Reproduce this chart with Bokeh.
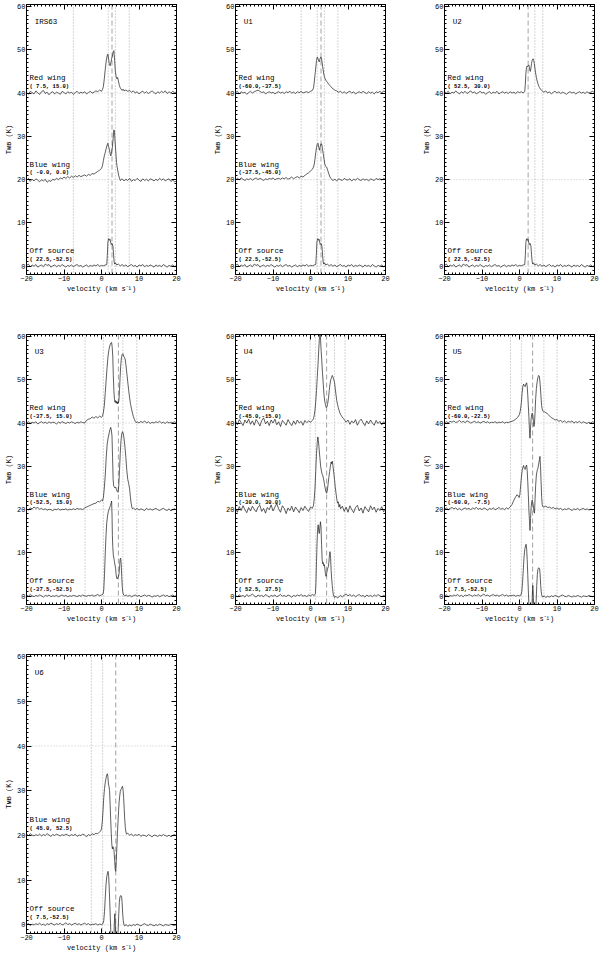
from bokeh.plotting import figure
from bokeh.layouts import column, row
from bokeh.models import LinearAxis, SingleIntervalTicker, Range1d, Span
from bokeh.core.properties import value
from bokeh.embed import file_html
from bokeh.resources import INLINE

# ---------------- data: (velocity km/s, T relative to the spectrum's offset in K) ----------------
irs63_red = [(-20,0.2),(-19.5,-0.3),(-19,0.4),(-18.5,0.1),(-18,-0.2),(-17.5,0.5),(-17,0.0),(-16.5,-0.3),(-16,0.3),(-15.5,0.6),
 (-15,-0.1),(-14.5,0.2),(-14,-0.4),(-13.5,0.1),(-13,0.3),(-12.5,-0.2),(-12,0.2),(-11.5,0.0),(-11,-0.3),(-10.5,0.4),(-10,0.1),
 (-9.5,-0.2),(-9,0.3),(-8.5,0.0),(-8,0.2),(-7.5,-0.3),(-7,0.1),(-6.5,0.4),(-6,-0.1),(-5.5,0.2),(-5,0.0),(-4.5,0.3),(-4,-0.2),
 (-3.5,0.1),(-3,0.4),(-2.5,0.0),(-2,0.2),(-1.5,0.5),(-1,0.3),(-0.5,0.7),(0,0.4),(0.25,0.8),(0.5,1.5),(0.75,3.3),(1.0,5.5),
 (1.25,7.4),(1.5,8.6),(1.7,9.0),(1.9,7.8),(2.1,6.5),(2.3,6.3),(2.5,7.0),(2.7,8.0),(2.9,8.5),(3.1,9.5),(3.3,9.8),(3.5,7.5),
 (3.7,5.0),(3.9,3.8),(4.1,3.3),(4.3,3.6),(4.5,2.8),(4.75,1.8),(5.0,1.2),(5.25,0.9),(5.5,0.6),(5.75,0.9),(6,0.5),(6.5,0.7),
 (7,0.4),(7.5,0.6),(8,0.2),(8.5,0.5),(9,0.0),(9.5,0.3),(10,-0.2),(10.5,0.2),(11,0.4),(11.5,0.0),(12,0.3),(12.5,-0.1),(13,0.2),
 (13.5,0.5),(14,0.1),(14.5,-0.2),(15,0.3),(15.5,0.0),(16,0.4),(16.5,0.1),(17,0.5),(17.5,-0.1),(18,0.3),(18.5,0.0),(19,0.4),
 (19.5,0.1),(20,0.2)]

irs63_blue = [(-20,-0.2),(-19.5,0.3),(-19,-0.4),(-18.5,0.1),(-18,-0.3),(-17.5,0.2),(-17,-0.1),(-16.5,-0.5),(-16,0.0),(-15.5,-0.3),
 (-15,0.1),(-14.5,-0.6),(-14,-0.2),(-13.5,-0.4),(-13,0.1),(-12.5,-0.1),(-12,0.3),(-11.5,0.0),(-11,0.4),(-10.5,0.2),(-10,0.6),
 (-9.5,0.3),(-9,0.7),(-8.5,0.4),(-8,0.8),(-7.5,0.5),(-7,0.9),(-6.5,0.6),(-6,1.0),(-5.5,0.7),(-5,0.9),(-4.5,1.1),(-4,0.8),
 (-3.5,1.2),(-3,1.0),(-2.5,1.4),(-2,1.3),(-1.5,1.6),(-1,1.9),(-0.5,2.2),(0,2.6),(0.25,3.2),(0.5,4.4),(0.75,5.5),(1.0,6.3),
 (1.25,7.2),(1.5,8.0),(1.7,8.4),(1.9,7.6),(2.1,7.0),(2.3,6.0),(2.5,5.5),(2.7,6.5),(2.9,7.5),(3.1,9.5),(3.3,11.5),(3.45,11.2),
 (3.6,9.0),(3.8,6.5),(4.0,4.0),(4.2,2.8),(4.4,1.8),(4.6,0.9),(4.8,0.3),(5.0,-0.2),(5.5,0.2),(6,-0.3),(6.5,0.1),(7,-0.2),(7.5,0.3),
 (8,-0.4),(8.5,0.0),(9,-0.2),(9.5,0.3),(10,-0.1),(10.5,-0.4),(11,0.2),(11.5,-0.2),(12,0.1),(12.5,-0.3),(13,0.2),(13.5,0.0),
 (14,-0.3),(14.5,0.1),(15,-0.2),(15.5,0.3),(16,-0.1),(16.5,0.2),(17,-0.3),(17.5,0.0),(18,0.2),(18.5,-0.4),(19,-0.1),(19.5,-0.5),(20,-0.3)]

off_p22_m52 = [(-20,0.2),(-19.5,0.5),(-19,-0.1),(-18.5,0.3),(-18,0.0),(-17.5,0.4),(-17,-0.2),(-16.5,0.1),(-16,0.3),(-15.5,-0.1),
 (-15,0.5),(-14.5,0.2),(-14,0.4),(-13.5,-0.2),(-13,0.1),(-12.5,0.3),(-12,-0.1),(-11.5,0.2),(-11,0.0),(-10.5,0.4),(-10,0.1),
 (-9.5,-0.2),(-9,0.2),(-8.5,0.0),(-8,0.3),(-7.5,-0.1),(-7,0.2),(-6.5,0.4),(-6,0.0),(-5.5,0.2),(-5,-0.2),(-4.5,0.1),(-4,0.3),
 (-3.5,-0.1),(-3,0.2),(-2.5,0.0),(-2,0.3),(-1.5,0.1),(-1,0.4),(-0.5,0.0),(0,0.2),(0.5,0.1),(1.0,0.3),(1.4,0.4),(1.55,2.5),
 (1.7,5.5),(1.85,6.3),(2.0,6.4),(2.15,6.0),(2.3,6.2),(2.45,5.5),(2.6,5.0),(2.75,5.3),(2.9,5.2),(3.05,4.6),(3.2,2.8),(3.35,1.2),
 (3.5,0.5),(3.75,0.8),(4.0,0.3),(4.5,0.5),(5,0.1),(5.5,0.4),(6,0.0),(6.5,0.3),(7,-0.1),(7.5,0.2),(8,0.4),(8.5,0.0),(9,0.2),
 (9.5,-0.2),(10,0.3),(10.5,0.1),(11,0.4),(11.5,-0.1),(12,0.2),(12.5,0.0),(13,0.3),(13.5,0.1),(14,-0.2),(14.5,0.3),(15,0.0),
 (15.5,0.2),(16,-0.1),(16.5,0.4),(17,0.1),(17.5,-0.2),(18,0.2),(18.5,0.0),(19,0.3),(19.5,-0.1),(20,0.2)]

u1_red = [(-20,0.1),(-19.5,0.4),(-19,-0.2),(-18.5,0.3),(-18,0.0),(-17.5,0.2),(-17,-0.3),(-16.5,0.1),(-16,0.4),(-15.5,0.0),
 (-15,0.3),(-14.5,0.5),(-14,0.7),(-13.5,0.4),(-13,0.1),(-12.5,0.3),(-12,-0.2),(-11.5,0.1),(-11,0.3),(-10.5,0.0),(-10,0.2),
 (-9.5,-0.2),(-9,0.1),(-8.5,0.3),(-8,0.0),(-7.5,0.2),(-7,-0.1),(-6.5,0.3),(-6,0.1),(-5.5,0.4),(-5,0.0),(-4.5,0.2),(-4,-0.1),
 (-3.5,0.3),(-3,0.1),(-2.5,0.4),(-2,0.0),(-1.5,0.2),(-1,0.3),(-0.5,0.1),(0,0.4),(0.5,0.6),(0.8,1.2),(1.0,2.5),(1.2,4.2),
 (1.4,5.8),(1.6,7.5),(1.8,8.3),(2.0,8.0),(2.2,7.4),(2.35,7.2),(2.5,7.8),(2.7,8.3),(2.9,8.2),(3.1,7.0),(3.3,5.8),(3.5,4.6),
 (3.7,3.8),(3.9,3.3),(4.2,2.8),(4.5,2.5),(4.8,2.1),(5.1,1.8),(5.4,1.5),(5.7,1.2),(6.0,1.0),(6.3,0.8),(6.6,0.6),(7,0.5),(7.5,0.2),
 (8,0.4),(8.5,0.0),(9,0.3),(9.5,-0.1),(10,0.2),(10.5,0.4),(11,0.0),(11.5,0.3),(12,-0.2),(12.5,0.1),(13,0.3),(13.5,0.0),(14,0.4),
 (14.5,0.1),(15,-0.1),(15.5,0.3),(16,0.0),(16.5,0.2),(17,-0.2),(17.5,0.3),(18,0.1),(18.5,0.4),(19,0.0),(19.5,0.5),(20,0.2)]

u1_blue = [(-20,-0.1),(-19.5,0.3),(-19,0.0),(-18.5,0.4),(-18,0.1),(-17.5,-0.2),(-17,0.2),(-16.5,0.0),(-16,0.3),(-15.5,-0.1),
 (-15,0.2),(-14.5,0.4),(-14,0.0),(-13.5,0.3),(-13,0.1),(-12.5,-0.2),(-12,0.2),(-11.5,0.0),(-11,0.3),(-10.5,0.1),(-10,0.4),
 (-9.5,0.0),(-9,0.2),(-8.5,0.3),(-8,0.1),(-7.5,0.4),(-7,0.2),(-6.5,0.5),(-6,0.1),(-5.5,0.3),(-5,0.6),(-4.5,0.2),(-4,0.5),
 (-3.5,0.7),(-3,0.4),(-2.5,0.8),(-2,0.6),(-1.5,1.0),(-1,1.3),(-0.5,1.6),(0,2.0),(0.5,2.4),(0.8,2.9),(1.0,3.6),(1.2,4.8),
 (1.4,6.3),(1.6,7.4),(1.8,8.2),(2.0,8.4),(2.2,7.5),(2.4,6.8),(2.6,7.6),(2.8,8.3),(3.0,8.2),(3.2,7.0),(3.4,6.0),(3.6,4.8),
 (3.8,3.7),(4.0,3.1),(4.3,2.9),(4.6,2.1),(4.9,1.3),(5.2,0.6),(5.5,0.2),(6,-0.2),(6.5,0.1),(7,-0.3),(7.5,0.2),(8,0.0),(8.5,-0.2),
 (9,0.3),(9.5,0.0),(10,-0.1),(10.5,0.2),(11,-0.3),(11.5,0.1),(12,-0.1),(12.5,0.3),(13,0.0),(13.5,-0.2),(14,0.2),(14.5,-0.1),
 (15,0.1),(15.5,-0.3),(16,0.2),(16.5,0.0),(17,-0.2),(17.5,0.3),(18,0.0),(18.5,0.2),(19,-0.1),(19.5,0.3),(20,0.1)]

u2_red = [(-20,0.3),(-19.5,0.0),(-19,0.4),(-18.5,-0.2),(-18,0.2),(-17.5,0.0),(-17,0.5),(-16.5,0.1),(-16,-0.2),(-15.5,0.3),
 (-15,0.0),(-14.5,0.4),(-14,-0.1),(-13.5,0.2),(-13,0.5),(-12.5,0.0),(-12,0.3),(-11.5,-0.2),(-11,0.1),(-10.5,0.4),(-10,0.0),
 (-9.5,0.2),(-9,-0.3),(-8.5,0.1),(-8,0.3),(-7.5,-0.1),(-7,0.2),(-6.5,0.0),(-6,0.4),(-5.5,-0.2),(-5,0.1),(-4.5,0.3),(-4,0.0),
 (-3.5,0.2),(-3,-0.1),(-2.5,0.3),(-2,0.0),(-1.5,0.2),(-1,-0.1),(-0.5,0.3),(0,0.1),(0.5,0.3),(1.0,0.0),(1.4,0.4),(1.55,2.0),
 (1.7,4.5),(1.85,5.8),(2.0,6.2),(2.15,6.0),(2.3,6.3),(2.45,6.5),(2.6,6.1),(2.75,5.2),(2.9,5.0),(3.05,5.8),(3.2,6.8),(3.35,7.5),
 (3.5,7.8),(3.65,7.9),(3.8,7.5),(3.95,6.8),(4.1,5.8),(4.3,4.6),(4.5,3.6),(4.7,2.8),(4.9,2.2),(5.1,1.7),(5.3,1.3),(5.6,0.9),
 (5.9,0.6),(6.2,0.4),(6.5,0.2),(7,0.5),(7.5,0.0),(8,0.3),(8.5,-0.2),(9,0.2),(9.5,0.4),(10,0.0),(10.5,0.3),(11,-0.1),(11.5,0.2),
 (12,0.0),(12.5,-0.3),(13,0.1),(13.5,0.3),(14,0.0),(14.5,0.2),(15,-0.2),(15.5,0.1),(16,0.3),(16.5,0.0),(17,0.2),(17.5,-0.1),
 (18,0.3),(18.5,0.0),(19,0.2),(19.5,0.4),(20,0.1)]

u3_red = [(-20,0.0),(-19.5,0.3),(-19,-0.1),(-18.5,0.2),(-18,0.0),(-17.5,0.3),(-17,-0.2),(-16.5,0.1),(-16,0.3),(-15.5,0.0),
 (-15,0.2),(-14.5,-0.1),(-14,0.3),(-13.5,0.0),(-13,0.2),(-12.5,0.1),(-12,-0.2),(-11.5,0.2),(-11,0.0),(-10.5,0.3),(-10,0.1),
 (-9.5,-0.1),(-9,0.2),(-8.5,0.0),(-8,0.3),(-7.5,0.1),(-7,-0.1),(-6.5,0.2),(-6,0.0),(-5.5,0.3),(-5,0.1),(-4.5,0.0),(-4,0.6),
 (-3.5,0.9),(-3,1.0),(-2.5,1.4),(-2,1.1),(-1.5,1.5),(-1,1.2),(-0.5,1.6),(0,1.3),(0.25,1.6),(0.5,2.5),(0.75,4.0),(1.0,7.0),
 (1.25,10.0),(1.5,13.0),(1.75,15.5),(2.0,17.0),(2.25,18.0),(2.5,18.5),(2.7,18.6),(2.85,17.5),(3.0,15.5),(3.15,11.0),(3.3,7.5),
 (3.45,5.5),(3.6,4.8),(3.75,5.2),(3.9,4.6),(4.05,5.0),(4.2,4.4),(4.35,4.9),(4.5,4.6),(4.65,5.3),(4.8,7.5),(4.95,10.5),
 (5.1,13.0),(5.3,15.0),(5.5,15.8),(5.7,16.0),(5.9,15.5),(6.1,15.2),(6.3,14.8),(6.5,13.5),(6.75,11.5),(7.0,9.5),(7.25,7.5),
 (7.5,5.8),(7.75,4.3),(8.0,3.3),(8.25,2.3),(8.5,1.5),(8.75,0.9),(9.0,0.4),(9.25,0.1),(9.5,0.3),(10,0.0),(10.5,0.4),(11,0.1),
 (11.5,0.5),(12,0.0),(12.5,0.3),(13,-0.1),(13.5,0.2),(14,0.0),(14.5,0.3),(15,0.1),(15.5,0.4),(16,0.0),(16.5,0.2),(17,-0.1),
 (17.5,0.3),(18,0.0),(18.5,0.2),(19,0.1),(19.5,0.3),(20,0.0)]

u3_blue = [(-20,0.2),(-19.5,-0.1),(-19,0.4),(-18.5,0.2),(-18,0.6),(-17.5,0.3),(-17,0.5),(-16.5,0.1),(-16,0.3),(-15.5,0.0),
 (-15,0.2),(-14.5,-0.1),(-14,0.1),(-13.5,0.0),(-13,-0.2),(-12.5,0.1),(-12,0.0),(-11.5,0.2),(-11,-0.1),(-10.5,0.1),(-10,0.0),
 (-9.5,0.2),(-9,-0.1),(-8.5,0.1),(-8,0.0),(-7.5,0.2),(-7,0.0),(-6.5,0.3),(-6,0.1),(-5.5,0.2),(-5,0.0),(-4.5,0.4),(-4,0.6),
 (-3.5,0.8),(-3,1.0),(-2.5,1.2),(-2,1.4),(-1.5,1.5),(-1,1.9),(-0.5,1.8),(0,2.2),(0.25,2.0),(0.5,2.8),(0.75,5.0),(1.0,8.0),
 (1.25,12.0),(1.5,15.0),(1.75,16.5),(2.0,17.5),(2.25,18.5),(2.45,19.0),(2.6,18.5),(2.8,17.0),(2.95,12.0),(3.1,7.0),(3.25,5.5),
 (3.4,5.3),(3.6,5.0),(3.8,5.2),(4.0,4.6),(4.2,4.2),(4.4,4.0),(4.6,5.5),(4.8,9.0),(5.0,13.0),(5.2,16.0),(5.4,17.5),(5.6,18.0),
 (5.8,17.6),(6.0,16.5),(6.25,14.5),(6.5,12.0),(6.75,9.0),(7.0,7.0),(7.25,6.0),(7.5,4.8),(7.7,3.0),(7.9,1.5),(8.1,0.5),(8.3,0.2),
 (8.5,0.4),(9,0.0),(9.5,0.3),(10,-0.1),(10.5,0.2),(11,0.0),(11.5,-0.2),(12,0.3),(12.5,0.0),(13,0.2),(13.5,-0.1),(14,0.1),
 (14.5,0.3),(15,0.0),(15.5,-0.2),(16,0.1),(16.5,0.3),(17,0.0),(17.5,-0.2),(18,0.2),(18.5,-0.3),(19,0.0),(19.5,0.2),(20,-0.1)]

off_m37_m52 = [(-20,0.3),(-19.5,0.0),(-19,0.4),(-18.5,0.1),(-18,-0.1),(-17.5,0.2),(-17,0.0),(-16.5,0.3),(-16,0.1),(-15.5,-0.2),
 (-15,0.2),(-14.5,0.0),(-14,0.3),(-13.5,-0.1),(-13,0.1),(-12.5,0.0),(-12,0.2),(-11.5,-0.1),(-11,0.1),(-10.5,0.3),(-10,0.0),
 (-9.5,0.2),(-9,-0.1),(-8.5,0.1),(-8,0.0),(-7.5,0.2),(-7,0.1),(-6.5,-0.1),(-6,0.2),(-5.5,0.0),(-5,0.3),(-4.5,0.1),(-4,0.0),
 (-3.5,0.2),(-3,0.1),(-2.5,0.3),(-2,0.0),(-1.5,0.2),(-1,0.4),(-0.5,0.1),(0,0.3),(0.4,0.5),(0.6,1.5),(0.8,5.0),(1.0,10.0),
 (1.2,14.0),(1.4,17.0),(1.6,18.5),(1.8,19.5),(2.0,20.0),(2.2,20.5),(2.4,21.0),(2.55,21.5),(2.7,22.0),(2.8,19.0),(2.9,14.0),
 (3.0,11.5),(3.15,9.5),(3.3,8.8),(3.45,8.0),(3.6,7.2),(3.75,6.5),(3.9,5.0),(4.05,4.2),(4.2,4.0),(4.35,4.3),(4.5,4.6),(4.65,5.0),
 (4.8,6.5),(4.95,8.5),(5.1,8.8),(5.25,7.5),(5.4,4.5),(5.55,2.0),(5.7,0.8),(5.9,0.3),(6.2,0.1),(6.6,0.3),(7,0.0),(7.5,0.2),
 (8,-0.1),(8.5,0.1),(9,0.3),(9.5,0.0),(10,0.2),(10.5,-0.1),(11,0.1),(11.5,0.3),(12,0.0),(12.5,0.2),(13,0.1),(13.5,-0.2),
 (14,0.1),(14.5,0.0),(15,0.2),(15.5,-0.1),(16,0.1),(16.5,0.3),(17,0.0),(17.5,0.2),(18,-0.1),(18.5,0.1),(19,0.3),(19.5,0.0),(20,0.2)]

u4_red = [(-20,0.5),(-19.5,-0.4),(-19,0.8),(-18.5,0.1),(-18,-0.6),(-17.5,0.7),(-17,0.0),(-16.5,0.9),(-16,-0.3),(-15.5,0.5),
 (-15,-0.5),(-14.5,0.8),(-14,0.2),(-13.5,-0.7),(-13,0.6),(-12.5,1.2),(-12,-0.2),(-11.5,0.4),(-11,-0.6),(-10.5,0.7),(-10,0.0),
 (-9.5,0.9),(-9,-0.4),(-8.5,0.3),(-8,-0.8),(-7.5,0.6),(-7,0.1),(-6.5,-0.5),(-6,0.8),(-5.5,0.0),(-5,-0.6),(-4.5,0.5),(-4,-0.3),
 (-3.5,0.7),(-3,0.0),(-2.5,0.4),(-2,-0.5),(-1.5,0.6),(-1,0.1),(-0.5,0.5),(0,0.2),(0.5,0.6),(0.8,1.0),(1.0,1.8),(1.2,3.0),
 (1.4,5.0),(1.6,7.5),(1.8,10.5),(2.0,13.5),(2.2,17.0),(2.4,20.0),(2.55,21.5),(2.7,19.0),(2.85,16.5),(3.0,14.5),(3.2,11.5),
 (3.4,9.0),(3.6,6.5),(3.8,5.0),(4.0,4.2),(4.2,3.6),(4.4,3.8),(4.6,4.6),(4.8,5.8),(5.0,7.5),(5.2,9.0),(5.4,10.0),(5.6,10.5),
 (5.8,11.0),(6.0,10.6),(6.2,10.0),(6.4,9.4),(6.6,8.0),(6.8,6.5),(7.0,5.2),(7.2,4.3),(7.4,3.6),(7.6,3.0),(7.8,2.4),(8.0,2.0),
 (8.3,1.6),(8.6,1.2),(9.0,0.8),(9.5,0.2),(10,0.7),(10.5,-0.3),(11,0.5),(11.5,0.0),(12,0.8),(12.5,-0.5),(13,0.4),(13.5,0.9),
 (14,0.1),(14.5,-0.6),(15,0.5),(15.5,-0.2),(16,0.7),(16.5,0.0),(17,-0.5),(17.5,0.6),(18,-0.1),(18.5,0.4),(19,-0.4),(19.5,0.3),(20,0.0)]

u4_blue = [(-20,0.3),(-19.5,-0.6),(-19,0.7),(-18.5,-0.2),(-18,0.9),(-17.5,0.0),(-17,-0.7),(-16.5,0.5),(-16,-0.3),(-15.5,0.8),
 (-15,0.1),(-14.5,-0.5),(-14,0.6),(-13.5,1.0),(-13,-0.4),(-12.5,0.3),(-12,-0.8),(-11.5,0.5),(-11,0.0),(-10.5,1.1),(-10,-0.3),
 (-9.5,0.6),(-9,1.4),(-8.5,0.2),(-8,-0.6),(-7.5,0.9),(-7,0.3),(-6.5,-0.9),(-6,0.4),(-5.5,-0.2),(-5,0.8),(-4.5,-0.5),(-4,0.6),
 (-3.5,0.0),(-3,-0.7),(-2.5,0.5),(-2,-0.2),(-1.5,0.8),(-1,0.1),(-0.5,-0.4),(0,0.6),(0.5,0.3),(0.8,1.0),(1.0,2.5),(1.2,5.0),
 (1.4,9.0),(1.6,13.0),(1.8,15.5),(1.95,16.8),(2.1,16.0),(2.3,14.0),(2.5,12.0),(2.7,10.0),(2.9,9.0),(3.1,8.2),(3.3,7.8),(3.5,7.0),
 (3.7,6.0),(3.9,5.0),(4.1,4.2),(4.3,3.8),(4.5,4.5),(4.7,6.0),(4.9,7.5),(5.1,8.8),(5.3,10.0),(5.5,11.0),(5.65,10.6),(5.8,11.2),
 (6.0,10.0),(6.2,8.5),(6.4,7.0),(6.6,5.2),(6.8,3.8),(7.0,2.5),(7.2,1.5),(7.4,1.8),(7.6,0.6),(7.8,1.2),(8.0,0.2),(8.5,0.8),
 (9,-0.4),(9.5,0.6),(10,-0.6),(10.5,0.9),(11,0.0),(11.5,-0.7),(12,0.5),(12.5,1.0),(13,-0.3),(13.5,0.4),(14,-0.8),(14.5,0.7),
 (15,0.1),(15.5,-0.5),(16,0.9),(16.5,0.0),(17,0.6),(17.5,-0.6),(18,0.3),(18.5,-0.2),(19,0.7),(19.5,-0.5),(20,0.0)]

off_p52_p37 = [(-20,0.2),(-19.5,-0.1),(-19,0.3),(-18.5,0.0),(-18,0.2),(-17.5,-0.2),(-17,0.4),(-16.5,0.0),(-16,0.2),(-15.5,0.5),
 (-15,0.1),(-14.5,-0.2),(-14,0.3),(-13.5,0.0),(-13,0.2),(-12.5,-0.1),(-12,0.4),(-11.5,0.1),(-11,-0.2),(-10.5,0.2),(-10,0.0),
 (-9.5,0.3),(-9,-0.1),(-8.5,0.1),(-8,0.4),(-7.5,0.0),(-7,0.2),(-6.5,-0.1),(-6,0.3),(-5.5,0.1),(-5,-0.2),(-4.5,0.2),(-4,0.0),
 (-3.5,0.3),(-3,0.1),(-2.5,0.4),(-2,0.0),(-1.5,0.2),(-1,-0.1),(-0.5,0.3),(0,0.1),(0.5,0.4),(1.0,0.2),(1.3,0.6),(1.45,3.0),
 (1.6,8.0),(1.75,12.5),(1.9,15.5),(2.05,16.5),(2.2,15.0),(2.35,14.5),(2.5,16.0),(2.65,17.2),(2.8,16.0),(2.95,12.0),(3.1,8.5),
 (3.25,7.5),(3.4,7.8),(3.55,7.0),(3.7,7.3),(3.85,6.2),(4.0,5.0),(4.15,4.6),(4.3,5.2),(4.45,6.0),(4.6,6.5),(4.75,6.8),(4.9,7.8),
 (5.05,9.5),(5.2,10.3),(5.35,9.0),(5.5,6.0),(5.65,4.0),(5.8,2.5),(5.95,1.2),(6.1,0.3),(6.4,-0.3),(6.8,0.0),(7.2,-0.4),(7.6,-0.1),
 (8,0.2),(8.5,-0.2),(9,0.3),(9.5,0.5),(10,0.1),(10.5,0.4),(11,0.0),(11.5,0.3),(12,-0.1),(12.5,0.2),(13,0.4),(13.5,0.0),(14,0.2),
 (14.5,-0.2),(15,0.3),(15.5,0.0),(16,0.2),(16.5,-0.1),(17,0.3),(17.5,0.0),(18,0.4),(18.5,0.1),(19,-0.1),(19.5,0.2),(20,0.0)]

u5_red = [(-20,0.0),(-19.5,0.3),(-19,0.1),(-18.5,0.4),(-18,0.2),(-17.5,0.5),(-17,0.1),(-16.5,0.3),(-16,0.6),(-15.5,0.2),
 (-15,0.4),(-14.5,0.1),(-14,0.5),(-13.5,0.3),(-13,0.0),(-12.5,0.2),(-12,0.4),(-11.5,0.1),(-11,0.3),(-10.5,0.0),(-10,0.2),
 (-9.5,0.4),(-9,0.1),(-8.5,0.3),(-8,0.0),(-7.5,0.2),(-7,0.1),(-6.5,0.3),(-6,0.0),(-5.5,0.2),(-5,0.1),(-4.5,0.3),(-4,0.0),
 (-3.5,0.2),(-3,0.1),(-2.5,0.3),(-2,0.4),(-1.5,0.6),(-1,0.9),(-0.5,1.3),(0,2.0),(0.25,3.0),(0.5,4.8),(0.7,7.0),(0.9,8.5),
 (1.1,9.0),(1.3,8.6),(1.5,8.4),(1.7,9.0),(1.9,9.3),(2.05,8.5),(2.2,6.5),(2.35,4.0),(2.5,1.5),(2.65,-1.5),(2.8,-3.5),(2.95,-1.0),
 (3.1,1.0),(3.25,2.0),(3.4,2.3),(3.55,1.8),(3.7,0.5),(3.85,-0.8),(4.0,0.0),(4.15,2.5),(4.3,5.5),(4.5,8.0),(4.7,9.5),(4.9,10.5),
 (5.1,11.0),(5.3,10.8),(5.5,9.0),(5.7,6.5),(5.9,4.0),(6.1,3.0),(6.4,2.6),(6.7,2.6),(7.0,2.4),(7.3,2.3),(7.6,2.0),(7.9,1.7),
 (8.2,1.5),(8.6,1.2),(9.0,1.0),(9.5,0.7),(10,0.8),(10.5,0.4),(11,0.6),(11.5,0.2),(12,0.5),(12.5,0.1),(13,0.4),(13.5,0.2),
 (14,0.5),(14.5,0.0),(15,0.3),(15.5,0.1),(16,0.4),(16.5,0.0),(17,0.3),(17.5,0.1),(18,-0.1),(18.5,0.2),(19,0.0),(19.5,0.3),(20,0.1)]

u5_blue = [(-20,0.1),(-19.5,0.4),(-19,0.0),(-18.5,0.3),(-18,0.5),(-17.5,0.2),(-17,0.4),(-16.5,0.0),(-16,0.3),(-15.5,-0.1),
 (-15,0.2),(-14.5,0.4),(-14,0.1),(-13.5,0.3),(-13,0.0),(-12.5,0.4),(-12,0.2),(-11.5,0.5),(-11,0.1),(-10.5,0.3),(-10,0.0),
 (-9.5,0.4),(-9,0.2),(-8.5,-0.1),(-8,0.3),(-7.5,0.1),(-7,0.4),(-6.5,0.0),(-6,0.2),(-5.5,0.5),(-5,0.1),(-4.5,0.3),(-4,0.0),
 (-3.5,0.4),(-3,0.2),(-2.5,0.6),(-2,1.2),(-1.5,2.2),(-1.0,3.0),(-0.7,3.4),(-0.4,3.3),(-0.1,2.8),(0.1,3.5),(0.3,5.5),(0.5,7.5),
 (0.7,9.0),(0.9,9.8),(1.1,10.2),(1.3,9.5),(1.5,9.3),(1.7,10.0),(1.9,10.3),(2.05,9.0),(2.2,6.5),(2.35,3.5),(2.5,0.0),(2.65,-2.5),
 (2.8,-4.8),(2.95,-2.0),(3.1,0.5),(3.25,1.8),(3.4,2.2),(3.55,1.5),(3.7,0.8),(3.85,-0.5),(4.0,-0.8),(4.15,2.5),(4.3,5.5),(4.5,8.0),
 (4.7,9.0),(4.9,9.5),(5.1,10.5),(5.3,11.5),(5.45,12.3),(5.6,10.0),(5.75,6.5),(5.9,3.0),(6.05,1.2),(6.2,0.7),(6.5,0.6),(7,0.8),
 (7.5,0.5),(8,0.6),(8.5,0.3),(9,0.5),(9.5,0.2),(10,0.4),(10.5,0.1),(11,0.3),(11.5,-0.1),(12,0.2),(12.5,0.0),(13,0.3),(13.5,0.1),
 (14,-0.2),(14.5,0.2),(15,0.0),(15.5,0.3),(16,-0.1),(16.5,0.1),(17,0.3),(17.5,0.0),(18,0.2),(18.5,-0.1),(19,0.1),(19.5,0.0),(20,0.2)]

off_p7_m52 = [(-20,0.1),(-19.5,0.3),(-19,-0.1),(-18.5,0.2),(-18,0.0),(-17.5,0.3),(-17,0.1),(-16.5,0.4),(-16,0.0),(-15.5,0.2),
 (-15,-0.1),(-14.5,0.3),(-14,0.1),(-13.5,0.4),(-13,0.2),(-12.5,0.0),(-12,0.3),(-11.5,0.1),(-11,0.4),(-10.5,0.0),(-10,0.2),
 (-9.5,0.5),(-9,0.1),(-8.5,0.3),(-8,0.0),(-7.5,0.2),(-7,0.4),(-6.5,0.1),(-6,0.3),(-5.5,0.0),(-5,0.2),(-4.5,0.4),(-4,0.1),
 (-3.5,0.3),(-3,0.0),(-2.5,0.2),(-2,0.1),(-1.5,0.3),(-1,0.0),(-0.5,0.2),(0,0.1),(0.4,0.3),(0.6,1.0),(0.8,3.0),(1.0,6.0),
 (1.2,9.0),(1.4,10.8),(1.6,11.6),(1.75,12.0),(1.9,11.0),(2.05,8.5),(2.2,5.0),(2.35,1.5),(2.5,-2.0),(2.65,-4.0),(3.0,-5.0),
 (3.3,-3.0),(3.45,1.0),(3.55,2.5),(3.65,1.0),(3.8,-3.0),(4.0,-5.0),(4.3,-4.0),(4.45,-1.0),(4.6,2.5),(4.75,5.0),(4.9,6.2),
 (5.05,6.5),(5.2,6.6),(5.35,6.4),(5.5,5.0),(5.65,2.5),(5.8,1.0),(5.95,0.2),(6.2,-0.2),(6.6,0.1),(7,-0.3),(7.5,0.0),(8,-0.2),
 (8.5,0.1),(9,-0.1),(9.5,0.2),(10,0.0),(10.5,-0.2),(11,0.1),(11.5,0.3),(12,0.0),(12.5,-0.1),(13,0.2),(13.5,0.0),(14,-0.2),
 (14.5,0.1),(15,-0.1),(15.5,0.2),(16,0.0),(16.5,-0.2),(17,0.1),(17.5,0.0),(18,-0.1),(18.5,0.2),(19,0.0),(19.5,-0.1),(20,0.1)]

u6_blue = [(-20,0.3),(-19.5,0.0),(-19,0.4),(-18.5,0.1),(-18,-0.1),(-17.5,0.2),(-17,0.0),(-16.5,0.3),(-16,-0.1),(-15.5,0.2),
 (-15,0.0),(-14.5,0.4),(-14,0.1),(-13.5,-0.2),(-13,0.2),(-12.5,0.0),(-12,0.3),(-11.5,0.1),(-11,-0.1),(-10.5,0.2),(-10,0.0),
 (-9.5,0.3),(-9,0.1),(-8.5,-0.1),(-8,0.2),(-7.5,0.0),(-7,0.3),(-6.5,-0.2),(-6,0.1),(-5.5,0.0),(-5,0.3),(-4.5,0.1),(-4,-0.3),
 (-3.5,0.2),(-3,0.0),(-2.5,0.4),(-2,0.2),(-1.5,0.5),(-1,0.4),(-0.5,0.8),(-0.2,1.0),(0,1.5),(0.2,3.0),(0.4,5.5),(0.6,8.5),
 (0.8,10.5),(1.0,11.8),(1.2,12.8),(1.4,13.5),(1.55,13.8),(1.7,13.2),(1.85,11.5),(2.0,11.0),(2.15,10.0),(2.3,7.0),(2.45,3.5),
 (2.6,0.5),(2.75,-2.0),(2.9,-3.0),(3.05,-2.5),(3.2,-2.8),(3.35,-3.5),(3.5,-5.5),(3.65,-7.5),(3.8,-8.0),(3.95,-5.5),(4.1,-2.5),
 (4.25,0.5),(4.4,3.0),(4.55,5.5),(4.7,7.5),(4.85,8.8),(5.0,9.8),(5.15,10.2),(5.3,10.5),(5.45,10.8),(5.6,11.0),(5.75,10.2),
 (5.9,8.5),(6.05,6.0),(6.2,3.5),(6.35,1.8),(6.5,0.8),(6.7,0.3),(7,0.5),(7.5,0.1),(8,0.3),(8.5,-0.1),(9,0.2),(9.5,0.0),(10,0.3),
 (10.5,-0.2),(11,0.1),(11.5,0.0),(12,-0.2),(12.5,0.2),(13,0.0),(13.5,-0.3),(14,0.1),(14.5,0.0),(15,-0.2),(15.5,0.1),(16,-0.1),
 (16.5,0.2),(17,0.0),(17.5,-0.2),(18,0.1),(18.5,-0.3),(19,0.0),(19.5,0.2),(20,-0.1)]

# spectrum offsets (K)
offsets = {"Red wing": 40, "Blue wing": 20, "Off source": 0}
baselines = [0, 20, 40]

panel_names = ["IRS63", "U1", "U2", "U3", "U4", "U5", "U6"]
panel_spectra = [
    [("Red wing", "( 7.5, 15.0)", irs63_red), ("Blue wing", "( -0.0, 0.0)", irs63_blue), ("Off source", "( 22.5,-52.5)", off_p22_m52)],
    [("Red wing", "(-60.0,-37.5)", u1_red), ("Blue wing", "(-37.5,-45.0)", u1_blue), ("Off source", "( 22.5,-52.5)", off_p22_m52)],
    [("Red wing", "( 52.5, 30.0)", u2_red), ("Off source", "( 22.5,-52.5)", off_p22_m52)],
    [("Red wing", "(-37.5, 15.0)", u3_red), ("Blue wing", "(-52.5, 15.0)", u3_blue), ("Off source", "(-37.5,-52.5)", off_m37_m52)],
    [("Red wing", "(-45.0,-15.0)", u4_red), ("Blue wing", "(-30.0, 30.0)", u4_blue), ("Off source", "( 52.5, 37.5)", off_p52_p37)],
    [("Red wing", "(-60.0,-22.5)", u5_red), ("Blue wing", "(-60.0, -7.5)", u5_blue), ("Off source", "( 7.5,-52.5)", off_p7_m52)],
    [("Blue wing", "( 45.0, 52.5)", u6_blue), ("Off source", "( 7.5,-52.5)", off_p7_m52)],
]
dotted_v = [[-7.5, 1.8, 3.7, 7.4], [-2.5, 1.8, 3.7, 7.3], [4.1, 6.2],
            [-4.4, 0.5, 5.7, 9.4], [-0.1, 1.3, 6.4, 9.2], [-2.4, 0.5, 6.5, 10.0], [-2.7, 0.3]]
dashed_v = [2.8, 2.8, 2.3, 4.5, 4.3, 3.5, 3.8]

FONT = "Liberation Mono"


def style_axis(ax, labels):
    ax.major_tick_in = 5
    ax.major_tick_out = 0
    ax.minor_tick_in = 2
    ax.minor_tick_out = 0
    ax.axis_line_color = "black"
    ax.axis_line_width = 1
    ax.major_tick_line_color = "black"
    ax.minor_tick_line_color = "black"
    if labels:
        ax.major_label_text_font = FONT
        ax.major_label_text_font_size = "7px"
        ax.major_label_text_color = "black"
        ax.major_label_standoff = 1
        ax.axis_label_text_font = FONT
        ax.axis_label_text_font_size = "7px"
        ax.axis_label_text_font_style = "normal"
        ax.axis_label_text_color = "black"
        ax.axis_label_standoff = 1
    else:
        ax.major_label_text_font_size = "1px"
        ax.major_label_text_color = None
        ax.major_label_standoff = 0
        ax.axis_label_standoff = 0


def make_panel(i, frame_h, right_border, bottom_border):
    p = figure(frame_width=150, frame_height=frame_h, x_range=Range1d(-20, 20), y_range=Range1d(-1.9, 60.45),
               output_backend="svg", toolbar_location=None,
               min_border_left=26, min_border_right=right_border, min_border_top=4, min_border_bottom=bottom_border)
    p.xgrid.visible = False
    p.ygrid.visible = False
    p.outline_line_color = "black"
    p.background_fill_color = "white"
    p.border_fill_color = "white"

    p.xaxis[0].ticker = SingleIntervalTicker(interval=10, num_minor_ticks=10)
    p.yaxis[0].ticker = SingleIntervalTicker(interval=10, num_minor_ticks=10)
    style_axis(p.xaxis[0], True)
    style_axis(p.yaxis[0], True)
    p.xaxis[0].major_label_overrides = {-20: "\u221220", -10: "\u221210"}
    p.xaxis[0].axis_label = "velocity (km s\u207b\u00b9)"
    p.yaxis[0].axis_label = "T\u1d0d\u0299 (K)"

    for loc in ("above", "right"):
        ax = LinearAxis(ticker=SingleIntervalTicker(interval=10, num_minor_ticks=10))
        style_axis(ax, False)
        p.add_layout(ax, loc)

    for b in baselines:
        p.add_layout(Span(location=b, dimension="width", line_color="#b8b8b8", line_dash="1 2",
                          line_width=0.8, level="underlay"))
    for v in dotted_v[i]:
        p.add_layout(Span(location=v, dimension="height", line_color="#999999", line_dash="1 2",
                          line_width=0.8, level="underlay"))
    p.add_layout(Span(location=dashed_v[i], dimension="height", line_color="#8a8a8a", line_dash="5 3",
                      line_width=0.8, level="underlay"))

    lab_x, lab_y, lab_t = [], [], []
    pos_x, pos_y, pos_t = [], [], []
    for label, pos, spec in panel_spectra[i]:
        off = offsets[label]
        vs = [pt[0] for pt in spec]
        ts = [pt[1] + off for pt in spec]
        p.line(vs, ts, line_color="#1a1a1a", line_width=0.7)
        lab_x.append(-19.2); lab_y.append(off + 3.5); lab_t.append(label)
        pos_x.append(-19.2); pos_y.append(off + 1.6); pos_t.append(pos)

    p.text(x=lab_x, y=lab_y, text=lab_t, text_font=value(FONT), text_font_size="7.5px",
           text_baseline="alphabetic", text_align="left", text_color="black")
    p.text(x=pos_x, y=pos_y, text=pos_t, text_font=value(FONT), text_font_size="5.5px",
           text_font_style="bold", text_baseline="alphabetic", text_align="left", text_color="black")
    p.text(x=[-17.8], y=[56.3], text=[panel_names[i]], text_font=value(FONT), text_font_size="7.5px",
           text_baseline="alphabetic", text_align="left", text_color="black")
    return p


figs = []
for i in range(7):
    col = i % 3
    rb = 33 if col < 2 else 5
    if i < 3:
        fh, bb = 270, 56
    elif i < 6:
        fh, bb = 270, 46
    else:
        fh, bb = 279, 20
    figs.append(make_panel(i, fh, rb, bb))

layout = column(row(figs[0], figs[1], figs[2]), row(figs[3], figs[4], figs[5]), row(figs[6]))

with open("out.html", "w") as f:
    f.write(file_html(layout, INLINE))
